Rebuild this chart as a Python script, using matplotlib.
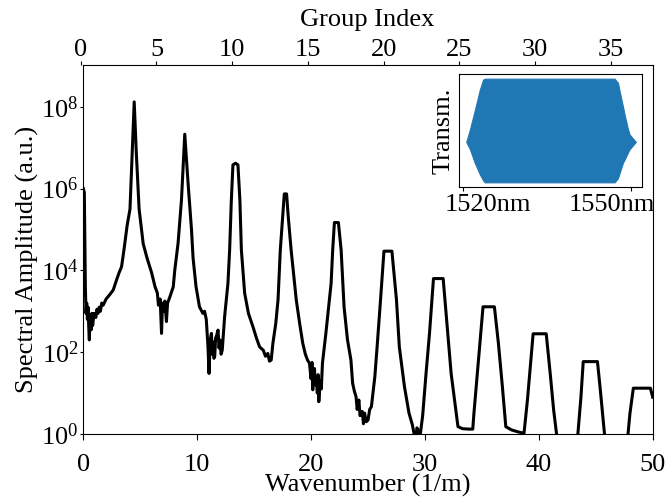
import numpy as np
import matplotlib
matplotlib.use('Agg')
import matplotlib.pyplot as plt

plt.rcParams['font.family'] = ['Liberation Serif', 'DejaVu Serif']
plt.rcParams['mathtext.fontset'] = 'custom'
plt.rcParams['mathtext.rm'] = 'Liberation Serif'
plt.rcParams['font.size'] = 19

# spectrum: wavenumber (1/m) and log10 of the amplitude
wavenumber = [
    0.00, 0.09, 0.18, 0.24, 0.30, 0.36, 0.42, 0.48, 0.53, 0.59, 0.65, 0.70,
    0.75, 0.82, 0.88, 0.95, 1.10, 1.20, 1.30, 1.40, 1.50, 1.62, 1.75, 2.00,
    2.30, 2.63, 2.90, 3.15, 3.36, 3.57, 3.85, 4.10, 4.30, 4.47, 4.65, 4.90,
    5.26, 5.60, 5.99, 6.30, 6.50, 6.60, 6.75, 6.87, 6.95, 7.05, 7.16, 7.30,
    7.40, 7.60, 7.90, 8.03, 8.32, 8.62, 8.91, 9.20, 9.50, 9.64, 9.90, 10.20,
    10.50, 10.65, 10.80, 10.95, 11.04, 11.15, 11.25, 11.32, 11.40, 11.47, 11.54, 11.62,
    11.70, 11.83, 11.92, 12.00, 12.10, 12.20, 12.41, 12.70, 12.85, 13.00, 13.14, 13.36,
    13.58, 13.75, 13.88, 14.17, 14.50, 14.90, 15.20, 15.48, 15.80, 16.00, 16.20, 16.35,
    16.50, 16.65, 16.90, 17.10, 17.30, 17.50, 17.65, 17.85, 18.00, 18.25, 18.70, 19.00,
    19.27, 19.50, 19.70, 19.86, 20.00, 20.08, 20.15, 20.22, 20.30, 20.38, 20.45, 20.55,
    20.62, 20.68, 20.80, 20.90, 21.00, 21.30, 21.76, 21.90, 22.05, 22.40, 22.64, 22.90,
    23.20, 23.50, 23.65, 23.80, 23.95, 24.05, 24.20, 24.30, 24.50, 24.60, 24.70, 24.85,
    25.00, 25.15, 25.30, 25.60, 25.80, 26.10, 26.40, 27.10, 27.50, 27.75, 28.20, 28.60,
    28.90, 29.05, 29.20, 29.30, 29.40, 29.55, 29.80, 30.10, 30.40, 30.75, 31.60, 32.00,
    32.30, 32.60, 32.90, 33.30, 33.80, 34.20, 34.30, 34.60, 34.90, 35.10, 36.10, 36.45,
    36.80, 37.10, 37.60, 38.20, 38.70, 39.00, 39.30, 39.50, 40.65, 41.00, 41.30, 41.60,
    42.50, 43.40, 43.70, 43.90, 45.15, 45.40, 45.80, 46.80, 47.80, 48.00, 48.30, 49.80,
    50.00,
]
log_amplitude = [
    6.00, 5.90, 3.60, 2.95, 3.20, 2.80, 3.10, 2.60, 2.30, 2.90, 2.80, 2.55,
    2.95, 2.65, 2.80, 2.95, 2.85, 3.05, 2.95, 3.10, 3.00, 3.20, 3.15, 3.30,
    3.40, 3.52, 3.75, 3.95, 4.09, 4.50, 5.10, 5.50, 6.90, 8.12, 6.90, 5.50,
    4.65, 4.30, 3.95, 3.60, 3.45, 3.15, 3.30, 2.46, 3.20, 3.00, 3.25, 2.75,
    3.20, 3.35, 3.60, 4.00, 4.66, 5.72, 7.33, 6.13, 5.00, 4.30, 3.60, 3.11,
    2.95, 3.00, 2.80, 2.13, 1.48, 2.30, 2.46, 1.95, 2.25, 1.85, 1.89, 2.35,
    2.40, 2.54, 2.10, 2.30, 1.95, 2.05, 2.87, 3.68, 4.50, 5.72, 6.58, 6.62,
    6.58, 5.72, 4.50, 3.44, 2.95, 2.62, 2.35, 2.13, 2.05, 1.90, 1.97, 1.78,
    1.81, 2.22, 2.70, 3.28, 4.50, 5.30, 5.87, 5.87, 5.30, 4.50, 3.28, 2.70,
    2.22, 1.95, 1.80, 1.73, 1.35, 1.75, 1.08, 1.55, 1.60, 1.20, 1.40, 1.00,
    1.45, 0.79, 1.30, 1.10, 1.73, 2.46, 3.68, 4.50, 5.17, 5.17, 4.50, 3.10,
    2.30, 1.81, 1.24, 1.05, 0.91, 0.60, 0.83, 0.45, 0.55, 0.25, 0.51, 0.30,
    0.34, 0.60, 0.67, 1.40, 2.13, 3.28, 4.47, 4.47, 3.28, 2.13, 1.16, 0.51,
    0.22, 0.00, -0.10, 0.15, 0.10, -0.10, 0.45, 1.49, 2.46, 3.80, 3.80, 2.46,
    1.48, 0.83, 0.18, 0.13, 0.12, 0.12, 0.50, 1.48, 2.46, 3.11, 3.11, 2.22,
    1.16, 0.18, 0.10, 0.05, 0.02, 0.83, 1.81, 2.45, 2.45, 1.48, 0.59, -0.10,
    -0.50, -0.10, 0.91, 1.77, 1.77, 1.08, -0.10, -0.50, -0.10, 0.50, 1.12, 1.12,
    0.90,
]
amplitude = 10.0 ** np.array(log_amplitude)

# inset: envelope of the dense transmission fringes
inset_wl = [1520.6, 1521.25, 1522.1, 1523.0, 1523.6, 1523.9, 1524.2, 1546.8,
            1547.1, 1547.7, 1548.0, 1548.6, 1548.9, 1549.5, 1549.8, 1550.9]
inset_upper = [0.39, 0.51, 0.69, 0.89, 0.99, 1.0, 1.0, 1.0,
               1.0, 0.96, 0.88, 0.73, 0.65, 0.51, 0.46, 0.39]
inset_lower = [0.39, 0.32, 0.19, 0.08, 0.02, 0.0, 0.0, 0.0,
               0.0, 0.04, 0.09, 0.19, 0.22, 0.29, 0.32, 0.39]
inset_ticks = [1520, 1550]
inset_labels = ['1520nm', '1550nm']

group_ticks = [0, 5, 10, 15, 20, 25, 30, 35]

W, H = 665, 501
fig = plt.figure(figsize=(W / 100, H / 100), dpi=100)

x0, x1, y0, y1 = 83.3, 652.7, 65, 434
ax = fig.add_axes([x0 / W, 1 - y1 / H, (x1 - x0) / W, (y1 - y0) / H])
ax.plot(wavenumber, amplitude, color='black', lw=2.2)
ax.set_yscale('log')
ax.set_xlim(0, 50)
ax.set_ylim(1, 1.05e9)
ax.set_yticks([1, 1e2, 1e4, 1e6, 1e8])
ax.minorticks_off()
ax.tick_params(axis='x', length=4.5, pad=10)
ax.tick_params(axis='y', length=2.5, pad=1)
ax.set_xlabel('Wavenumber (1/m)', labelpad=-1.5)
ax.set_ylabel('Spectral Amplitude (a.u.)')
ax.yaxis.set_label_coords(-0.078, 0.474)

# top axis (group index) sits a little left of the main frame
gx0 = 80.7
ax_top = fig.add_axes([gx0 / W, 1 - y1 / H, (x1 - gx0) / W, (y1 - y0) / H])
ax_top.set_frame_on(False)
ax_top.set_xlim(0, (x1 - gx0) / 15.15)
ax_top.xaxis.tick_top()
ax_top.xaxis.set_label_position('top')
ax_top.set_xticks(group_ticks)
ax_top.tick_params(length=3, pad=0)
ax_top.set_yticks([])
ax_top.set_xlabel('Group Index', labelpad=9)

# inset
ix0, ix1, iy0, iy1 = 459, 642, 74, 187
ins = fig.add_axes([ix0 / W, 1 - iy1 / H, (ix1 - ix0) / W, (iy1 - iy0) / H])
ins.fill_between(inset_wl, inset_lower, inset_upper, color='#1f77b4', lw=0.8,
                 edgecolor='#1f77b4')
ins.set_xlim(1519.3, 1552.0)
ins.set_ylim(-0.045, 1.045)
ins.set_xticks(inset_ticks)
ins.tick_params(axis='x', length=3, labelbottom=False)
ins.set_yticks([])
ins.set_ylabel('Transm.', labelpad=3)
# tick labels in the reference sit off-centre from their ticks
for wl, lab, dx in zip(inset_ticks, inset_labels, [25, -19]):
    ins.annotate(lab, xy=(wl, 0), xycoords=ins.get_xaxis_transform(),
                 xytext=(dx * 0.72, -5), textcoords='offset points',
                 ha='center', va='top', annotation_clip=False)

fig.savefig('out.png', dpi=100)
